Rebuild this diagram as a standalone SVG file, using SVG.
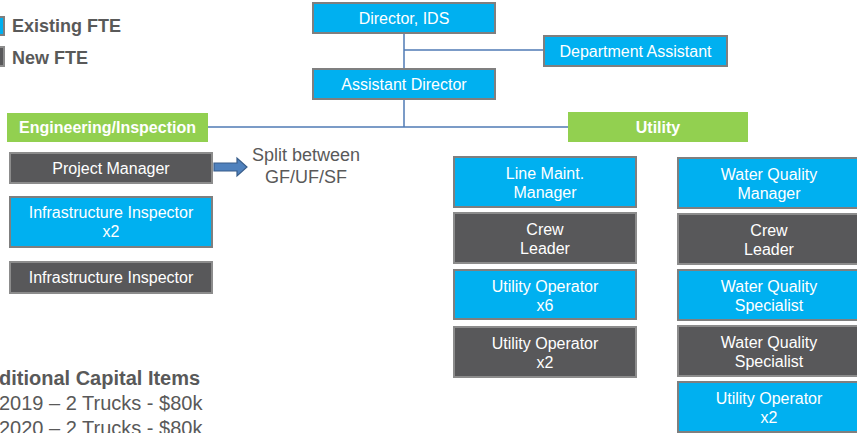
<svg xmlns="http://www.w3.org/2000/svg" width="857" height="433" viewBox="0 0 857 433">
<style>
.b{fill:#00B0F0;stroke:#7F7F7F;stroke-width:2}
.g{fill:#58585A;stroke:#8C8C8C;stroke-width:2}
.gr{fill:#92D050}
.t{font-family:"Liberation Sans",Arial,sans-serif;font-size:16px;fill:#FFFFFF;text-anchor:middle}
.tb{font-family:"Liberation Sans",Arial,sans-serif;font-size:16px;font-weight:bold;fill:#FFFFFF;text-anchor:middle}
.lg{font-family:"Liberation Sans",Arial,sans-serif;font-size:18px;font-weight:bold;fill:#595959}
.nt{font-family:"Liberation Sans",Arial,sans-serif;font-size:18px;fill:#595959;text-anchor:middle}
.cap{font-family:"Liberation Sans",Arial,sans-serif;font-size:20px;fill:#595959}
.ln{stroke:#4F7AB5;stroke-width:1.5;fill:none}
</style>
<rect width="857" height="433" fill="#FFFFFF"/>
<g id="legend">
<rect x="-2" y="17" width="6" height="18" class="b"/>
<rect x="-2" y="47" width="6" height="19" class="g"/>
<text x="12" y="32" class="lg">Existing FTE</text>
<text x="12" y="64" class="lg">New FTE</text>
</g>
<g id="connectors">
<line x1="404" y1="33" x2="404" y2="69" class="ln"/>
<line x1="404" y1="50" x2="544" y2="50" class="ln"/>
<line x1="404" y1="99" x2="404" y2="127" class="ln" stroke-width="2"/>
<line x1="208" y1="127" x2="568" y2="127" class="ln"/>
</g>
<g id="director"><rect x="313" y="3" width="182" height="30" class="b"/><text x="404" y="24" class="t">Director, IDS</text></g>
<g id="dept-assistant"><rect x="544" y="36" width="183" height="30" class="b"/><text x="635.5" y="57" class="t">Department Assistant</text></g>
<g id="assistant-director"><rect x="313" y="69" width="182" height="30" class="b"/><text x="404" y="90" class="t">Assistant Director</text></g>
<g id="engineering"><rect x="7" y="113" width="201" height="29" class="gr"/><text x="107.5" y="133" class="tb">Engineering/Inspection</text></g>
<g id="utility"><rect x="568" y="112" width="180" height="30" class="gr"/><text x="658" y="133" class="tb">Utility</text></g>
<g id="project-manager"><rect x="10" y="153" width="202" height="30" class="g"/><text x="111" y="174" class="t">Project Manager</text></g>
<g id="split-note">
<path d="M214,163 H237 V158 L247,167 L237,176 V171 H214 Z" fill="#4F81BD" stroke="#385D8A" stroke-width="1.2"/>
<text x="306" y="161" class="nt">Split between</text>
<text x="306" y="183" class="nt">GF/UF/SF</text>
</g>
<g id="infra-inspector-x2"><rect x="10" y="197" width="202" height="50" class="b"/><text x="111" y="218" class="t">Infrastructure Inspector</text><text x="111" y="237" class="t">x2</text></g>
<g id="infra-inspector-new"><rect x="10" y="262" width="202" height="31" class="g"/><text x="111" y="283" class="t">Infrastructure Inspector</text></g>
<g id="line-maint-manager"><rect x="454" y="157" width="182" height="50" class="b"/><text x="545" y="178.5" class="t">Line Maint.</text><text x="545" y="197.5" class="t">Manager</text></g>
<g id="crew-leader-1"><rect x="454" y="213" width="182" height="50" class="g"/><text x="545" y="234.5" class="t">Crew</text><text x="545" y="253.5" class="t">Leader</text></g>
<g id="utility-operator-x6"><rect x="454" y="270" width="182" height="49" class="b"/><text x="545" y="291.5" class="t">Utility Operator</text><text x="545" y="310.5" class="t">x6</text></g>
<g id="utility-operator-x2-new"><rect x="454" y="327" width="182" height="50" class="g"/><text x="545" y="348.5" class="t">Utility Operator</text><text x="545" y="367.5" class="t">x2</text></g>
<g id="wq-manager"><rect x="678" y="158" width="183" height="50" class="b"/><text x="769" y="179.5" class="t">Water Quality</text><text x="769" y="198.5" class="t">Manager</text></g>
<g id="crew-leader-2"><rect x="678" y="214" width="183" height="50" class="g"/><text x="769" y="235.5" class="t">Crew</text><text x="769" y="254.5" class="t">Leader</text></g>
<g id="wq-specialist"><rect x="678" y="270" width="183" height="50" class="b"/><text x="769" y="291.5" class="t">Water Quality</text><text x="769" y="310.5" class="t">Specialist</text></g>
<g id="wq-specialist-new"><rect x="678" y="326" width="183" height="50" class="g"/><text x="769" y="347.5" class="t">Water Quality</text><text x="769" y="366.5" class="t">Specialist</text></g>
<g id="utility-operator-x2"><rect x="678" y="382" width="183" height="50" class="b"/><text x="769" y="403.5" class="t">Utility Operator</text><text x="769" y="422.5" class="t">x2</text></g>
<g id="capital-items">
<text x="-1" y="385" class="cap" font-weight="bold">ditional Capital Items</text>
<text x="-1" y="410" class="cap">2019 – 2 Trucks - $80k</text>
<text x="-1" y="435" class="cap">2020 – 2 Trucks - $80k</text>
</g>
</svg>
